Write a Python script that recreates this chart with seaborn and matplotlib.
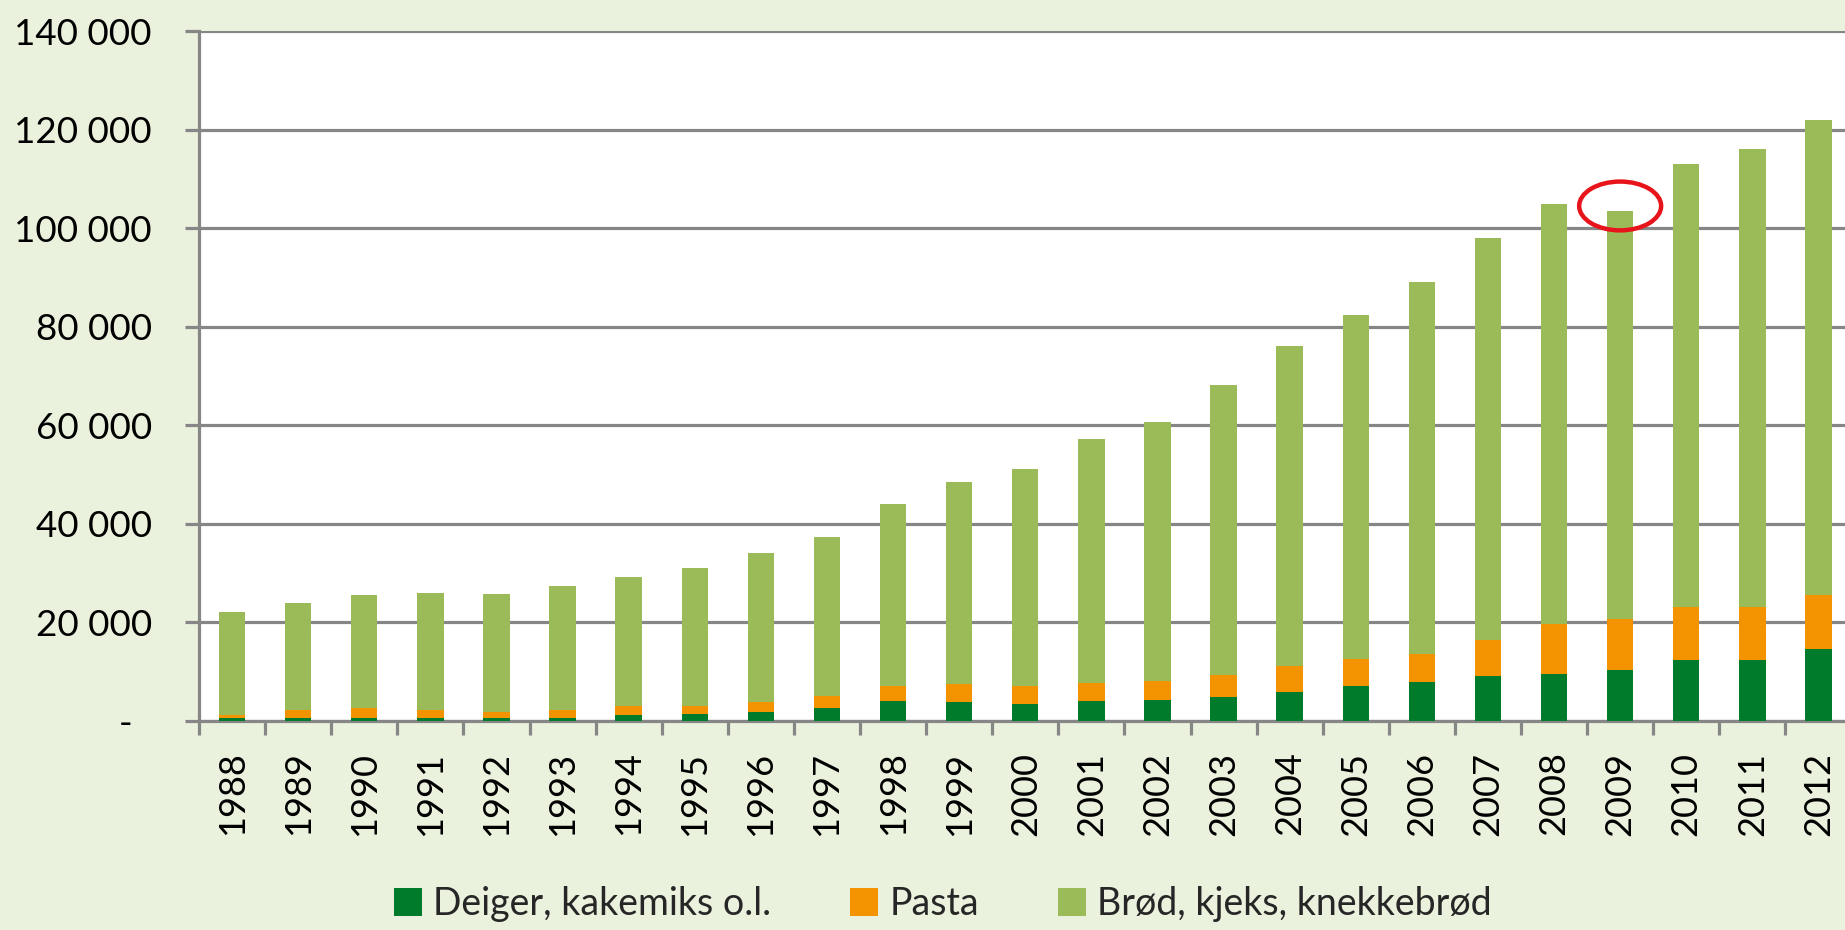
import numpy as np
import pandas as pd
import seaborn as sns
import matplotlib.pyplot as plt
from matplotlib.patches import Ellipse, Patch
from matplotlib.ticker import FixedLocator

# data
years = [str(y) for y in range(1988, 2013)]
deiger = [600, 550, 550, 550, 550, 550, 1240, 1380, 1800, 2620,
          4000, 3870, 3530, 4070, 4340, 4880, 5970, 7190, 8000, 9220,
          9630, 10440, 12470, 12470, 14510]
pasta = [700, 1590, 2000, 1590, 1310, 1650, 1730, 1650, 2060, 2410,
         3200, 3590, 3660, 3590, 3730, 4410, 5130, 5350, 5560, 7180,
         10100, 10170, 10650, 10580, 11050]
brod = [20900, 21860, 22950, 23860, 23840, 25100, 26330, 27970, 30140, 32270,
        36800, 41040, 43910, 49540, 52530, 58910, 64900, 69760, 75440, 81600,
        85270, 82890, 89880, 92950, 96440]
labels = ['Deiger, kakemiks o.l.', 'Pasta', 'Brød, kjeks, knekkebrød']
yticks = [0, 20000, 40000, 60000, 80000, 100000, 120000, 140000]
highlight = '2009'

colors = ['#007A2B', '#F39300', '#9BBB59']
bg = '#EAF1DD'
grey = '#868686'

df = pd.DataFrame({'year': years, 'deiger': deiger, 'pasta': pasta, 'brod': brod})
df['lvl1'] = df['deiger']
df['lvl2'] = df['lvl1'] + df['pasta']
df['lvl3'] = df['lvl2'] + df['brod']

sns.set_style('white')
plt.rcParams['font.family'] = ['Lato', 'DejaVu Sans']

fig = plt.figure(figsize=(18.45, 9.30), dpi=100, facecolor=bg)
ax = fig.add_axes([199 / 1845, 1 - 721 / 930, 1 - 199 / 1845, 690 / 930])
ax.set_facecolor('white')

# stacked bars drawn as overlapping cumulative totals
for col, c in zip(['lvl3', 'lvl2', 'lvl1'], colors[::-1]):
    sns.barplot(data=df, x='year', y=col, color=c, saturation=1, width=0.4,
                linewidth=0, ax=ax, zorder=3)

ax.set_xlim(-0.5, -0.5 + (1845 - 199) / 66.1)
ax.set_ylim(0, 140000)
ax.set_yticks(yticks)
ax.set_yticklabels(['-  '] + [f'{v:,}'.replace(',', ' ') for v in yticks[1:]])
ax.yaxis.grid(True, color=grey, lw=2.3, zorder=0)
ax.set_axisbelow(True)
ax.set_xlabel('')
ax.set_ylabel('')

for s in ['top', 'right']:
    ax.spines[s].set_visible(False)
for s in ['left', 'bottom']:
    ax.spines[s].set_color(grey)
    ax.spines[s].set_linewidth(2.3)

ax.tick_params(axis='y', which='major', length=10, width=2.3, color=grey,
               left=True, pad=24, labelsize=26.5, labelcolor='black')
ax.tick_params(axis='x', which='major', length=0, pad=22, labelsize=26,
               labelrotation=90, labelcolor='black')
ax.xaxis.set_minor_locator(FixedLocator(np.arange(-0.5, len(years), 1)))
ax.tick_params(axis='x', which='minor', length=10, width=2.3, color=grey,
               bottom=True)

# red circle around the 2009 bar
i = years.index(highlight)
ax.add_patch(Ellipse((i, df['lvl3'][i] + 1000), 1.24, 9900, fill=False,
                     edgecolor='#E8141B', lw=3.2, zorder=5, clip_on=False))

handles = [Patch(facecolor=c, edgecolor='none') for c in colors]
fig.legend(handles, labels, loc='center', bbox_to_anchor=(0.511, 0.028),
           ncol=3, frameon=False, fontsize=27, handlelength=0.75,
           handleheight=0.75, handletextpad=0.3, columnspacing=2.1)

fig.savefig('out.png', dpi=100, facecolor=bg)
